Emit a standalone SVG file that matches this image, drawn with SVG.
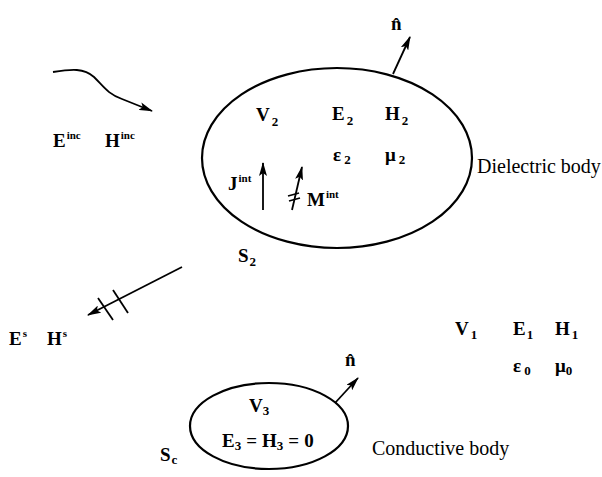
<svg xmlns="http://www.w3.org/2000/svg" width="602" height="477" viewBox="0 0 602 477">
<defs>
<marker id="ah" viewBox="0 0 14 8" refX="13" refY="4" markerWidth="14" markerHeight="8" markerUnits="userSpaceOnUse" orient="auto">
<path d="M0,0 L14,4 L0,8 L3,4 Z" fill="#000"/>
</marker>
</defs>
<style>
.b{fill:none;stroke:#000;stroke-width:2.2}
.c{fill:none;stroke:#000;stroke-width:1.8}
.s{font-family:'Liberation Serif',serif;font-weight:bold;font-size:19px;fill:#000}
.sub{font-size:13px}
.sup{font-size:11px}
.l{font-family:'Liberation Serif',serif;font-size:20px;fill:#000}
</style>
<rect width="602" height="477" fill="#fff"/>
<g id="dielectric-body">
<ellipse class="b" cx="337" cy="158" rx="135" ry="90"/>
<text class="s" x="256" y="121">V<tspan class="sub" dx="2" dy="5">2</tspan></text>
<text class="s" x="332" y="120">E<tspan class="sub" dx="2" dy="5">2</tspan></text>
<text class="s" x="385" y="120">H<tspan class="sub" dx="2" dy="5">2</tspan></text>
<text class="s" x="333" y="161">ε<tspan class="sub" dx="3" dy="3">2</tspan></text>
<text class="s" x="385" y="161">μ<tspan class="sub" dx="3" dy="3">2</tspan></text>
<text class="s" x="228" y="190">J<tspan class="sup" dx="1" dy="-8">int</tspan></text>
<text class="s" x="307" y="206">M<tspan class="sup" dx="1" dy="-8">int</tspan></text>
<text class="s" x="238" y="262">S<tspan class="sub" dx="1" dy="4">2</tspan></text>
<text class="l" x="477" y="173">Dielectric body</text>
<text class="s" x="391" y="30" font-size="20">n̂</text>
</g>
<g id="conductive-body">
<ellipse class="b" cx="269" cy="426" rx="79" ry="43"/>
<text class="s" x="249" y="412">V<tspan class="sub" dx="0" dy="3">3</tspan></text>
<text class="s" x="222" y="447" font-size="20">E<tspan class="sub" dy="3">3</tspan><tspan dy="-3" dx="5">=</tspan><tspan dx="5">H</tspan><tspan class="sub" dy="3">3</tspan><tspan dy="-3" dx="5">=</tspan><tspan dx="5">0</tspan></text>
<text class="s" x="160" y="461">S<tspan class="sub" dx="1" dy="3">c</tspan></text>
<text class="l" x="372" y="455">Conductive body</text>
<text class="s" x="345" y="366" font-size="20">n̂</text>
</g>
<g id="incident-field">
<text class="s" x="53" y="147">E<tspan class="sup" dx="1" dy="-8">inc</tspan></text>
<text class="s" x="105" y="147">H<tspan class="sup" dx="1" dy="-8">inc</tspan></text>
</g>
<g id="scattered-field">
<text class="s" x="9" y="345">E<tspan class="sup" dx="1" dy="-8">s</tspan></text>
<text class="s" x="47" y="345">H<tspan class="sup" dx="1" dy="-8">s</tspan></text>
</g>
<g id="free-space">
<text class="s" x="455" y="335">V<tspan class="sub" dx="2" dy="4">1</tspan></text>
<text class="s" x="513" y="335">E<tspan class="sub" dx="1" dy="4">1</tspan></text>
<text class="s" x="555" y="335">H<tspan class="sub" dx="2" dy="4">1</tspan></text>
<text class="s" x="513" y="372">ε<tspan class="sub" dx="3" dy="3">0</tspan></text>
<text class="s" x="555" y="372">μ<tspan class="sub" dx="0" dy="3">0</tspan></text>
</g>
<g id="connectors">
<path class="c" d="M53,72 C72,69 84,68 94,77 C104,87 108,94 122,99 L152,111" marker-end="url(#ah)"/>
<line class="c" x1="393" y1="74" x2="410" y2="37" marker-end="url(#ah)"/>
<line class="c" x1="335" y1="403" x2="358" y2="378" marker-end="url(#ah)"/>
<line class="c" x1="263" y1="210" x2="263" y2="163" marker-end="url(#ah)"/>
<line class="c" x1="292" y1="210" x2="302" y2="167" marker-end="url(#ah)"/>
<line class="c" x1="288" y1="196" x2="299" y2="193"/>
<line class="c" x1="289" y1="201" x2="300" y2="198"/>
<line class="c" x1="182" y1="267" x2="88" y2="315" marker-end="url(#ah)"/>
<line class="c" x1="98" y1="298" x2="113" y2="320"/>
<line class="c" x1="113" y1="290" x2="128" y2="313"/>
</g>
</svg>
